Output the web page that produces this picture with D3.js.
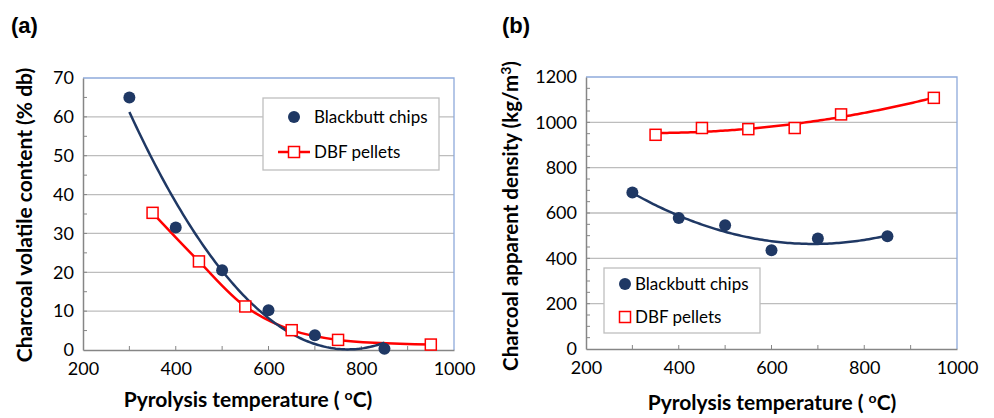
<!DOCTYPE html>
<html>
<head>
<meta charset="utf-8">
<script src="https://cdn.jsdelivr.net/npm/d3@7"></script>
<style>
  body { margin: 0; background: #fff; }
  svg { display: block; }
  text { font-family: Lato, "Open Sans", sans-serif; fill: #000; }
</style>
</head>
<body>
<svg id="chart" width="994" height="418"></svg>
<script>
// values
const tempBlackbutt = [300, 400, 500, 600, 700, 850];
const tempDbf = [350, 450, 550, 650, 750, 950];
const volatileBlackbutt = [65, 31.5, 20.5, 10.2, 3.8, 0.3];
const volatileDbf = [35.3, 22.8, 11.2, 5.1, 2.6, 1.4];
const densityBlackbutt = [690, 578, 546, 436, 487, 497];
const densityDbf = [945, 975, 970, 975, 1035, 1108];
const xTickValues = [200, 400, 600, 800, 1000];
const yTicksA = [0, 10, 20, 30, 40, 50, 60, 70];
const yTicksB = [0, 200, 400, 600, 800, 1000, 1200];
const seriesNames = ["Blackbutt chips", "DBF pellets"];

const navy = "#1f3864";
const red = "#ff0000";

const svg = d3.select("#chart");

// second order least squares trendline (like the spreadsheet trendline)
function quadFit(xs, ys) {
  let s = [0, 0, 0, 0, 0], t = [0, 0, 0];
  xs.forEach((x, i) => {
    for (let k = 0; k < 5; k++) s[k] += Math.pow(x, k);
    for (let k = 0; k < 3; k++) t[k] += Math.pow(x, k) * ys[i];
  });
  const A = [[s[0], s[1], s[2]], [s[1], s[2], s[3]], [s[2], s[3], s[4]]];
  const b = t.slice();
  // gaussian elimination
  for (let i = 0; i < 3; i++) {
    for (let j = i + 1; j < 3; j++) {
      const f = A[j][i] / A[i][i];
      for (let k = i; k < 3; k++) A[j][k] -= f * A[i][k];
      b[j] -= f * b[i];
    }
  }
  const c = [0, 0, 0];
  for (let i = 2; i >= 0; i--) {
    let v = b[i];
    for (let k = i + 1; k < 3; k++) v -= A[i][k] * c[k];
    c[i] = v / A[i][i];
  }
  return (x) => c[0] + c[1] * x + c[2] * x * x;
}

function trendPoints(xs, ys) {
  const f = quadFit(xs, ys);
  const lo = d3.min(xs), hi = d3.max(xs);
  return d3.range(lo, hi + 0.1, 5).map((x) => [x, f(x)]);
}

function drawPanel(cfg) {
  const g = svg.append("g");
  const x = d3.scaleLinear().domain([200, 1000]).range([cfg.left, cfg.right]);
  const y = d3.scaleLinear().domain([0, cfg.yMax]).range([cfg.bottom, cfg.top]);

  // gridlines
  g.selectAll("line.grid")
    .data(cfg.yTicks.filter((d) => d > 0 && d < cfg.yMax))
    .enter()
    .append("line")
    .attr("x1", cfg.left).attr("x2", cfg.right)
    .attr("y1", (d) => y(d)).attr("y2", (d) => y(d))
    .attr("stroke", "#bdbdbd").attr("stroke-width", 1.3);

  // top and right frame
  g.append("path")
    .attr("d", `M${cfg.left},${cfg.top}H${cfg.right}V${cfg.bottom}`)
    .attr("fill", "none").attr("stroke", "#8eaadb").attr("stroke-width", 1.3);

  // minor ticks inside
  g.selectAll("line.mx")
    .data(d3.range(300, 1000, 100))
    .enter()
    .append("line")
    .attr("x1", (d) => x(d)).attr("x2", (d) => x(d))
    .attr("y1", cfg.bottom).attr("y2", cfg.bottom - 4)
    .attr("stroke", "#868686");
  g.selectAll("line.my")
    .data(d3.range(cfg.minorStep, cfg.yMax, cfg.minorStep))
    .enter()
    .append("line")
    .attr("x1", cfg.left).attr("x2", cfg.left + 4)
    .attr("y1", (d) => y(d)).attr("y2", (d) => y(d))
    .attr("stroke", "#868686");

  // axes
  const xAxis = g.append("g")
    .attr("transform", `translate(0,${cfg.bottom})`)
    .call(d3.axisBottom(x).tickValues(xTickValues).tickFormat(d3.format("d")).tickSize(0).tickPadding(12));
  const yAxis = g.append("g")
    .attr("transform", `translate(${cfg.left},0)`)
    .call(d3.axisLeft(y).tickValues(cfg.yTicks).tickFormat(d3.format("d")).tickSize(0).tickPadding(9));
  [xAxis, yAxis].forEach((a) => {
    a.select(".domain").attr("stroke", "#868686").attr("stroke-width", 1.5);
    a.selectAll("text").style("font-family", "Lato, sans-serif").style("font-size", "18px").attr("fill", "#000");
  });

  // axis titles
  const xt = g.append("text")
    .attr("x", cfg.xTitleX).attr("y", cfg.xTitleY)
    .attr("text-anchor", "middle")
    .style("font-weight", "bold").style("font-size", "21px");
  xt.append("tspan").text("Pyrolysis temperature ( ");
  xt.append("tspan").attr("dy", -7).style("font-size", "14px").text("o");
  xt.append("tspan").attr("dy", 7).text("C)");

  const yt = g.append("text")
    .attr("transform", `translate(${cfg.yTitleX},${cfg.yTitleY}) rotate(-90)`)
    .attr("text-anchor", "middle")
    .style("font-weight", "bold").style("font-size", cfg.yTitleSize);
  cfg.yTitle(yt);

  // panel label
  g.append("text")
    .attr("x", cfg.labelX).attr("y", 33)
    .style("font-family", "'Liberation Sans', Arial, sans-serif")
    .style("font-weight", "bold").style("font-size", "22px")
    .text(cfg.label);

  const line = d3.line().x((d) => x(d[0])).y((d) => y(d[1]));

  // series lines
  const bbPts = tempBlackbutt.map((t, i) => [t, cfg.bb[i]]);
  const dbfPts = tempDbf.map((t, i) => [t, cfg.dbf[i]]);
  g.append("path")
    .attr("d", cfg.dbfSmooth ? line.curve(d3.curveCatmullRom.alpha(0.5))(dbfPts) : line.curve(d3.curveLinear)(trendPoints(tempDbf, cfg.dbf)))
    .attr("fill", "none").attr("stroke", red).attr("stroke-width", 2.5);
  g.append("path")
    .attr("d", line.curve(d3.curveLinear)(trendPoints(tempBlackbutt, cfg.bb)))
    .attr("fill", "none").attr("stroke", navy).attr("stroke-width", 2.5);

  // markers
  g.selectAll("rect.dbf")
    .data(dbfPts)
    .enter()
    .append("rect")
    .attr("x", (d) => x(d[0]) - 5.5).attr("y", (d) => y(d[1]) - 5.5)
    .attr("width", 11).attr("height", 11)
    .attr("fill", "#fff").attr("stroke", red).attr("stroke-width", 1.5);
  g.selectAll("circle.bb")
    .data(bbPts)
    .enter()
    .append("circle")
    .attr("cx", (d) => x(d[0])).attr("cy", (d) => y(d[1]))
    .attr("r", 6).attr("fill", navy);

  // legend
  const L = cfg.legend;
  g.append("rect")
    .attr("x", L.x).attr("y", L.y).attr("width", L.w).attr("height", L.h)
    .attr("fill", "#fff").attr("stroke", "#bfbfbf").attr("stroke-width", 1.3);
  g.append("circle").attr("cx", L.mx).attr("cy", L.y1).attr("r", 6).attr("fill", navy);
  if (L.line) {
    g.append("line")
      .attr("x1", L.mx - 16).attr("x2", L.mx + 16)
      .attr("y1", L.y2).attr("y2", L.y2)
      .attr("stroke", red).attr("stroke-width", 2.5);
  }
  g.append("rect")
    .attr("x", L.mx - 5.5).attr("y", L.y2 - 5.5).attr("width", 11).attr("height", 11)
    .attr("fill", "#fff").attr("stroke", red).attr("stroke-width", 1.5);
  g.selectAll("text.leg")
    .data(seriesNames)
    .enter()
    .append("text")
    .attr("x", L.tx).attr("y", (d, i) => (i === 0 ? L.y1 : L.y2) + 6)
    .style("font-size", "17px")
    .text((d) => d);
}

drawPanel({
  label: "(a)", labelX: 11,
  left: 83, right: 454, top: 78, bottom: 350,
  yMax: 70, yTicks: yTicksA, minorStep: 5,
  bb: volatileBlackbutt, dbf: volatileDbf, dbfSmooth: true,
  xTitleX: 248, xTitleY: 407,
  yTitleX: 32, yTitleY: 215, yTitleSize: "21px",
  yTitle: (t) => t.text("Charcoal volatile content (% db)"),
  legend: { x: 263, y: 98, w: 176, h: 72, mx: 294, y1: 117, y2: 152, tx: 314, line: true }
});

drawPanel({
  label: "(b)", labelX: 502,
  left: 586, right: 957, top: 77, bottom: 349,
  yMax: 1200, yTicks: yTicksB, minorStep: 50,
  bb: densityBlackbutt, dbf: densityDbf, dbfSmooth: false,
  xTitleX: 772, xTitleY: 410,
  yTitleX: 518, yTitleY: 216, yTitleSize: "20.5px",
  yTitle: (t) => {
    t.append("tspan").text("Charcoal  apparent density (kg/m");
    t.append("tspan").attr("dy", -7).style("font-size", "14px").text("3");
    t.append("tspan").attr("dy", 7).text(")");
  },
  legend: { x: 604, y: 268, w: 156, h: 65, mx: 625, y1: 284, y2: 317, tx: 635, line: false }
});
</script>
</body>
</html>
